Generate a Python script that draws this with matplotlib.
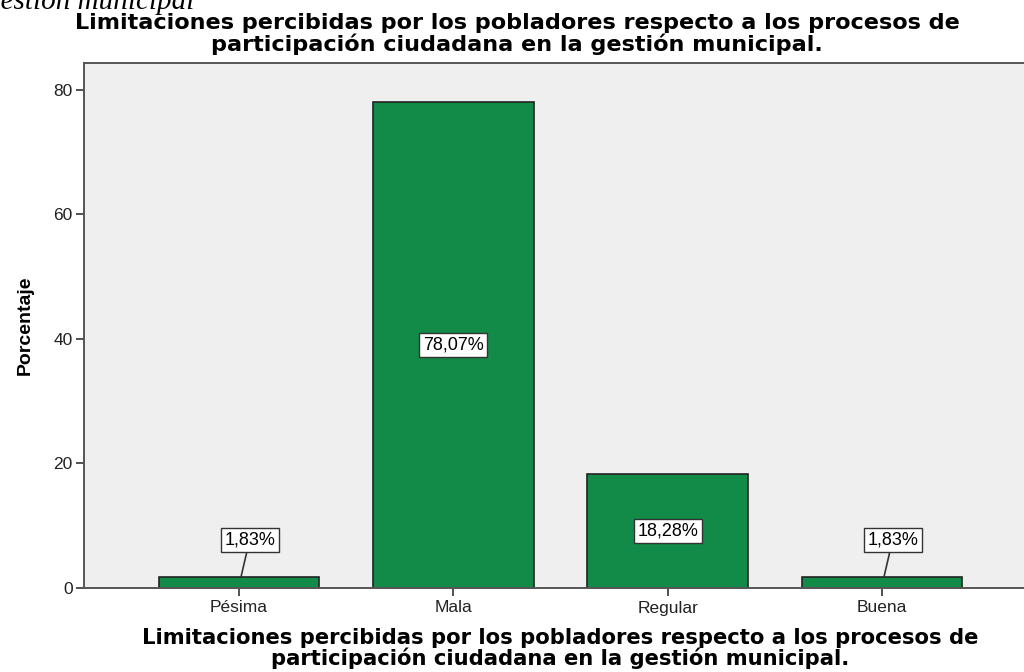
import matplotlib
matplotlib.use("Agg")
import matplotlib.pyplot as plt

categorias = ["Pésima", "Mala", "Regular", "Buena"]
porcentajes = [1.83, 78.07, 18.28, 1.83]
etiquetas = ["1,83%", "78,07%", "18,28%", "1,83%"]

linea1 = "Limitaciones percibidas por los pobladores respecto a los procesos de"
linea2 = "participación ciudadana en la gestión municipal."

plt.rcParams["font.family"] = ["Liberation Sans", "DejaVu Sans"]

W, H = 1024, 672
fig = plt.figure(figsize=(W / 100, H / 100), dpi=100)
ax = fig.add_axes([0.082, 0.125, 0.918, 0.781])
ax.set_facecolor("#efefef")

x = list(range(len(categorias)))
ax.bar(x, porcentajes, width=0.75, color="#118b47", edgecolor="#222222", linewidth=1.2, zorder=2)

ax.set_xlim(-0.723, 3.663)
ax.set_ylim(0, 84.3)
ax.set_xticks(x)
ax.set_xticklabels(categorias)
ax.set_yticks([0, 20, 40, 60, 80])
ax.tick_params(axis="both", direction="out", length=6, width=1.2, color="#333333",
               labelsize=12.5, labelcolor="#222222")
ax.tick_params(axis="y", pad=2)
ax.tick_params(axis="x", pad=3)

for side in ["left", "top", "bottom"]:
    ax.spines[side].set_color("#555555")
    ax.spines[side].set_linewidth(1.4)
ax.spines["right"].set_visible(False)

ax.set_ylabel("Porcentaje", fontsize=14, fontweight="bold", labelpad=14)

caja = dict(boxstyle="square,pad=0.2", fc="white", ec="#333333", lw=1)
for i, (v, t) in enumerate(zip(porcentajes, etiquetas)):
    if v > 10:
        ax.text(i, v / 2, t, ha="center", va="center", fontsize=13, bbox=caja, zorder=3)
    else:
        ax.annotate(t, xy=(i + 0.01, v), xytext=(i + 0.05, v + 5.9),
                    ha="center", va="center", fontsize=13, bbox=caja, zorder=3,
                    arrowprops=dict(arrowstyle="-", color="#333333", lw=1.2,
                                    shrinkA=0, shrinkB=0))

renderer = fig.canvas.get_renderer()


def titulo_dos_lineas(xc, y1, y2, ancho):
    # la primera linea fija el tamaño de letra para que ocupe 'ancho' pixeles
    t1 = fig.text(xc / W, 1 - y1 / H, linea1, fontsize=15, fontweight="bold",
                  family="DejaVu Sans", ha="center", va="baseline")
    w = t1.get_window_extent(renderer).width
    size = 15 * ancho / w
    t1.set_fontsize(size)
    fig.text(xc / W, 1 - y2 / H, linea2, fontsize=size, fontweight="bold",
             family="DejaVu Sans", ha="center", va="baseline")


titulo_dos_lineas(517, 29, 51, 890)
titulo_dos_lineas(560, 644, 665, 840)

# pie de figura del documento, recortado arriba
fig.text(-0.014, 1 - 9 / H, "gestión municipal", fontsize=21, style="italic",
         family=["Liberation Serif", "DejaVu Serif"], ha="left", va="baseline")

fig.savefig("out.png", dpi=100)
